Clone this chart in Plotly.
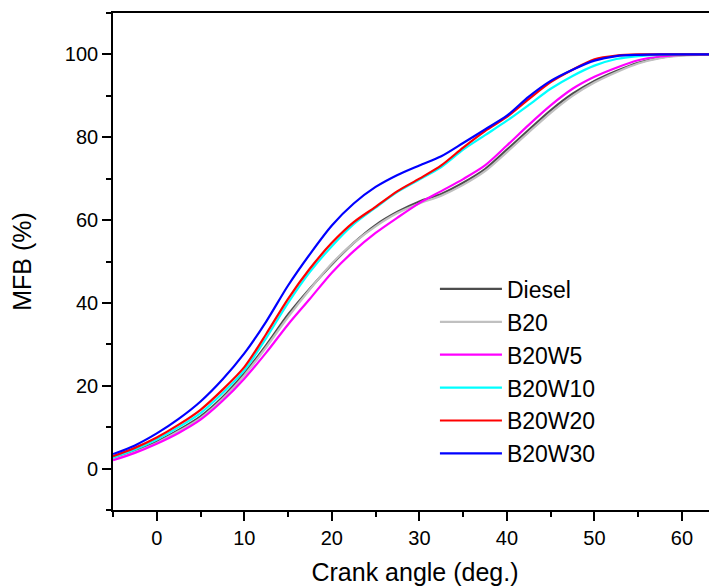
import plotly.graph_objects as go

# crank angle (deg.) sample points, shared by all fuels
crank_angle = [-5, -2.5, 0, 2.5, 5, 7.5, 10, 12.5, 15, 17.5, 20, 22.5, 25, 27.5,
               30, 32.5, 35, 37.5, 40, 42.5, 45, 47.5, 50, 52.5, 55, 57.5, 60, 64]

# mass fraction burned (%)
mfb_diesel = [2.4, 4.3, 6.5, 9.3, 12.6, 17.2, 23.0, 29.8, 37.2, 43.5, 49.3, 54.5, 58.8, 62.0,
              64.5, 66.3, 69.0, 72.3, 77.0, 81.8, 86.5, 90.5, 93.6, 96.0, 98.0, 99.2, 99.8, 100]
mfb_b20 = [2.2, 4.0, 6.2, 9.0, 12.2, 16.8, 22.5, 29.3, 36.6, 43.3, 49.5, 54.5, 58.5, 61.7,
           64.0, 65.9, 68.5, 71.8, 76.4, 81.2, 85.9, 90.0, 93.2, 95.7, 97.8, 99.1, 99.7, 100]
mfb_b20w5 = [2.0, 3.8, 6.0, 8.6, 11.8, 16.3, 21.7, 28.0, 34.8, 41.0, 47.3, 52.5, 56.9, 60.6,
             64.1, 67.0, 69.9, 73.2, 78.0, 83.0, 87.7, 91.7, 94.6, 96.8, 98.6, 99.5, 99.9, 100]
mfb_b20w10 = [2.7, 4.6, 7.0, 10.0, 13.4, 18.2, 23.7, 31.5, 40.0, 47.5, 53.7, 59.0, 63.0, 66.8,
              69.8, 72.8, 77.0, 80.5, 84.0, 87.8, 91.7, 94.8, 97.3, 98.9, 99.6, 99.9, 100, 100]
mfb_b20w20 = [3.0, 5.0, 7.5, 10.6, 14.2, 19.0, 24.5, 32.5, 41.0, 48.3, 54.5, 59.5, 63.2, 67.0,
              70.0, 73.2, 77.5, 81.5, 84.9, 89.2, 93.3, 96.3, 98.8, 99.7, 100, 100, 100, 100]
mfb_b20w30 = [3.5, 5.6, 8.5, 12.0, 16.2, 21.5, 27.8, 35.5, 44.2, 51.8, 58.7, 64.0, 68.0, 70.9,
              73.2, 75.4, 78.6, 81.9, 85.2, 89.8, 93.6, 96.3, 98.5, 99.6, 99.9, 100, 100, 100]

series = [
    ("Diesel", mfb_diesel, "#4d4d4d"),
    ("B20", mfb_b20, "#c0c0c0"),
    ("B20W5", mfb_b20w5, "#ff00ff"),
    ("B20W10", mfb_b20w10, "#00ffff"),
    ("B20W20", mfb_b20w20, "#ff0000"),
    ("B20W30", mfb_b20w30, "#0000ff"),
]

fig = go.Figure()
for name, values, color in series:
    fig.add_trace(go.Scatter(
        x=crank_angle, y=values, name=name, mode="lines",
        line=dict(color=color, width=2.2, shape="spline", smoothing=0.8),
    ))

font_family = "Liberation Sans, Arial, sans-serif"

axis_style = dict(
    showline=True, linecolor="black", linewidth=1.6,
    ticks="outside", ticklen=9, tickwidth=1.6, tickcolor="black",
    showgrid=False, zeroline=False, automargin=False,
    tickfont=dict(family=font_family, size=20, color="black"),
)

fig.update_xaxes(
    **axis_style, range=[-5, 64], tick0=0, dtick=10, mirror=True,
    minor=dict(ticks="outside", ticklen=5, tickwidth=1.6, tickcolor="black", dtick=5, tick0=0),
    title=dict(text="Crank angle (deg.)", font=dict(family=font_family, size=25, color="black"),
               standoff=16),
)
fig.update_yaxes(
    **axis_style, range=[-10, 110], tick0=0, dtick=20,
    minor=dict(ticks="outside", ticklen=5, tickwidth=1.6, tickcolor="black", dtick=10, tick0=0),
    title=dict(text="MFB (%)", font=dict(family=font_family, size=25, color="black"),
               standoff=28),
)

# the page body adds an 8px offset, so margins are shifted to keep the plot area in place
fig.update_layout(
    width=717, height=587,
    margin=dict(l=105, r=8, t=5, b=85),
    plot_bgcolor="white", paper_bgcolor="white",
    legend=dict(
        x=0.533, y=0.488, xanchor="left", yanchor="top",
        font=dict(family=font_family, size=23, color="black"),
        bgcolor="rgba(0,0,0,0)", itemwidth=62,
    ),
)

fig.write_html("out.html")
